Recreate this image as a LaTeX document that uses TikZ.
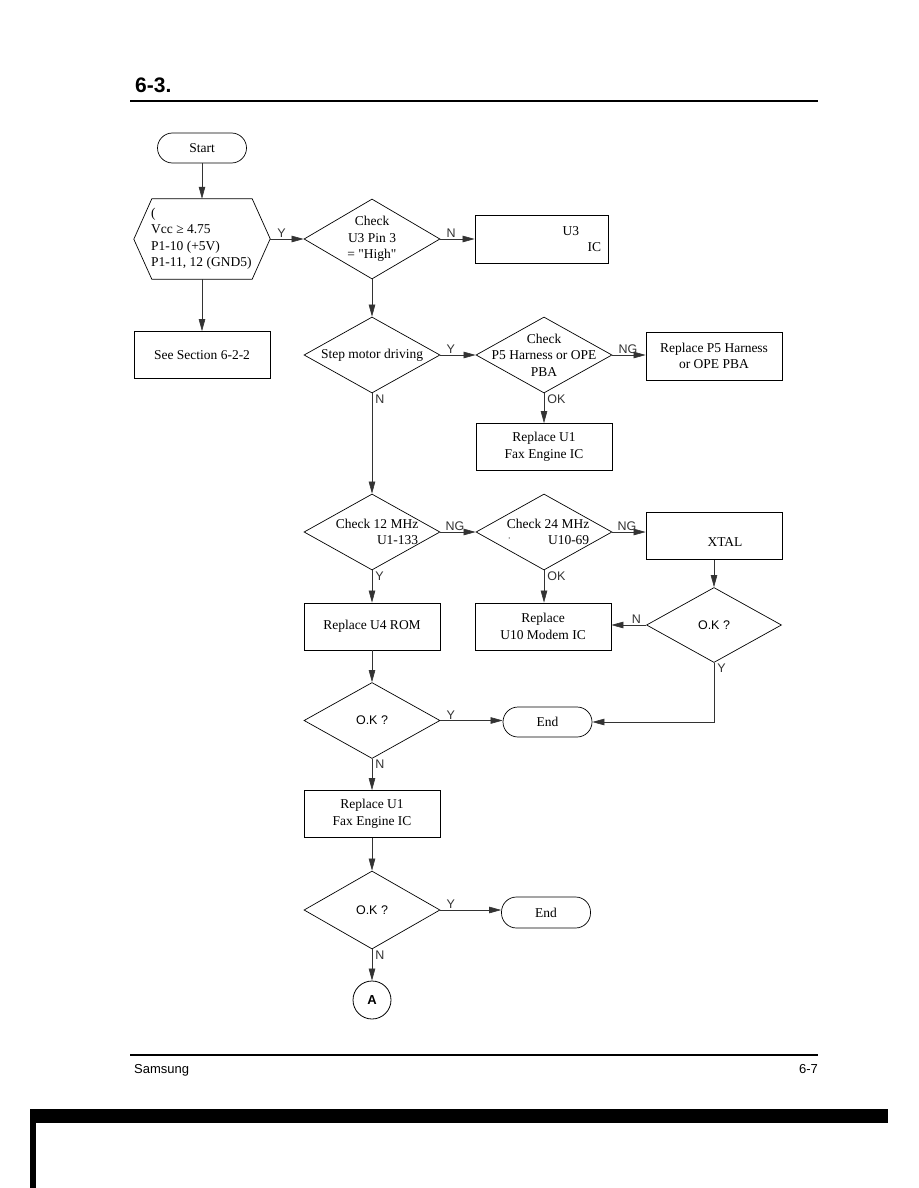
\documentclass[tikz,border=0pt]{standalone}
\usepackage{fontspec}
\setmainfont{Liberation Serif}
\setsansfont{Liberation Sans}
\usetikzlibrary{arrows.meta,positioning,shapes.geometric,calc}

\begin{document}
\begin{tikzpicture}[x=1pt, y=-1pt, every node/.style={font=\fontsize{13.5}{16.5}\selectfont}]
\tikzset{box/.style={draw, line width=0.7pt, minimum width=136pt, minimum height=47pt, align=center, inner sep=0pt}}
\tikzset{dec/.style={draw, diamond, line width=0.7pt, minimum width=136pt, minimum height=76pt, inner sep=0pt}}
\tikzset{term/.style={draw, rounded corners=15pt, line width=0.7pt, minimum width=89pt, minimum height=31pt}}
\tikzset{lab/.style={font=\sffamily\fontsize{12.5}{14}\selectfont, inner sep=1pt}}
\tikzset{arr/.style={-{Triangle[length=12pt,width=6.5pt]}, line width=0.6pt, black!80}}
\useasboundingbox (0,0) rectangle (918,1188);

% Header
\node[font=\sffamily\bfseries\fontsize{21}{24}\selectfont, anchor=base west, inner sep=0pt] (title) at (135,93) {6-3.};
\draw[line width=2.5pt] (130,101) -- (818,101);

% Power check column
\node[term, minimum height=30pt] (start) at (202,148) {Start};
\node[minimum width=100pt, minimum height=80pt, inner sep=0pt] (hex) at (202,239) {};
\draw[line width=0.7pt] (hex.north west) -- (hex.north east) -- ++(18,40) -- (hex.south east) -- (hex.south west) -- ++(-18,-40) -- cycle;
\node[anchor=west, align=left, inner sep=0pt] (hextxt) at (151,239) {(\\Vcc ≥ 4.75\\P1-10 (+5V)\\P1-11, 12 (GND5)};
\coordinate (hexR) at (270,239);
\node[box] (secbox) at (202,355) {See Section 6-2-2};

% Middle column
\node[dec, minimum height=80pt, label={[align=center]center:Check\\U3 Pin 3\\= \textquotedbl High\textquotedbl}] (d1) at (372,239) {};
\node[dec, label={center:Step motor driving}] (d2) at (372,355) {};
\node[dec, label={[align=right, xshift=5pt]center:Check 12 MHz\\U1-133}] (d4) at (372,532) {};
\node[box] (u4box) at (372,626.5) {Replace U4 ROM};
\node[dec, label={[lab]center:O.K ?}] (d7) at (372,720.5) {};
\node[box] (u1boxb) at (372,814) {Replace U1\\Fax Engine IC};
\node[dec, minimum height=78pt, label={[lab]center:O.K ?}] (d8) at (372,910) {};
\node[draw, circle, line width=0.8pt, minimum size=38pt, inner sep=0pt, font=\sffamily\bfseries\fontsize{13}{15}\selectfont] (nodeA) at (372,1000) {A};

% Right columns
\node[box, minimum width=133pt, minimum height=48pt, align=right, text width=119pt] (u3box) at (541.5,239) {U3\makebox[22pt]{}\\IC};
\node[dec, label={[align=center]center:Check\\P5 Harness or OPE\\PBA}] (d3) at (544,355) {};
\node[box, minimum height=48pt] (p5box) at (714,356) {Replace P5 Harness\\or OPE PBA};
\node[box] (u1box) at (544,447) {Replace U1\\Fax Engine IC};
\node[dec, label={[align=right, xshift=4pt]center:Check 24 MHz\\\makebox[0pt][l]{\hspace{-40pt}\raisebox{2pt}{\scriptsize '}}U10-69}] (d5) at (544,532) {};
\node[box, label={[xshift=11pt, yshift=-6pt]center:XTAL}] (xtal) at (714,536) {};
\node[dec, minimum width=135pt, minimum height=75pt, label={[lab]center:O.K ?}] (d6) at (714,625) {};
\node[box] (u10box) at (543,626.5) {Replace\\U10 Modem IC};
\node[term, minimum height=30pt] (end1) at (547.5,722) {End};
\node[term] (end2) at (546,912.5) {End};

% Connectors
\draw[arr] (start) -- (hex);
\draw[arr] (hex) -- (secbox);
\draw[arr] (hexR) -- node[lab, pos=0, anchor=south west, xshift=6pt] {Y} (d1);
\draw[arr] (d1) -- node[lab, pos=0, anchor=south west, xshift=5pt] {N} (d1 -| u3box.west);
\draw[arr] (d1) -- (d2);
\draw[arr] (d2) -- node[lab, pos=0, anchor=south west, xshift=5pt] {Y} (d3);
\draw[arr] (d3) -- node[lab, pos=0, anchor=south west, xshift=5pt] {NG} (d3 -| p5box.west);
\draw[arr] (d3) -- node[lab, pos=0, anchor=north west, xshift=2pt] {OK} (u1box);
\draw[arr] (d2) -- node[lab, pos=0, anchor=north west, xshift=2pt] {N} (d4);
\draw[arr] (d4) -- node[lab, pos=0, anchor=south west, xshift=4pt] {NG} (d5);
\draw[arr] (d5) -- node[lab, pos=0, anchor=south west, xshift=4pt] {NG} (d5 -| xtal.west);
\draw[arr] (d4) -- node[lab, pos=0, anchor=north west, xshift=2pt] {Y} (u4box);
\draw[arr] (d5) -- node[lab, pos=0, anchor=north west, xshift=2pt] {OK} (d5 |- u10box.north);
\draw[arr] (xtal) -- (xtal |- d6.north);
\draw[arr] (d6) -- node[lab, pos=0, anchor=south east, xshift=-4pt] {N} (d6 -| u10box.east);
\draw[arr] (u4box) -- (d7);
\draw[arr] (d7) -- node[lab, pos=0, anchor=south west, xshift=5pt] {Y} (d7 -| end1.west);
\draw[arr] (d6) |- node[lab, pos=0, anchor=north west, xshift=2pt] {Y} (end1);
\draw[arr] (d7) -- node[lab, pos=0, anchor=north west, xshift=2pt] {N} (u1boxb);
\draw[arr] (u1boxb) -- (d8);
\draw[arr] (d8) -- node[lab, pos=0, anchor=south west, xshift=5pt] {Y} (d8 -| end2.west);
\draw[arr] (d8) -- node[lab, pos=0, anchor=north west, xshift=2pt] {N} (nodeA);

% Footer
\draw[line width=2.5pt] (130,1055) -- (818,1055);
\node[font=\sffamily\fontsize{13}{15}\selectfont, anchor=base west, inner sep=0pt] (foot) at (134,1073) {Samsung};
\node[font=\sffamily\fontsize{13}{15}\selectfont, anchor=base east, inner sep=0pt] (page) at (818,1073) {6-7};
\fill (30,1109) rectangle (888,1123);
\fill (30,1109) rectangle (36,1188);
\end{tikzpicture}
\end{document}
